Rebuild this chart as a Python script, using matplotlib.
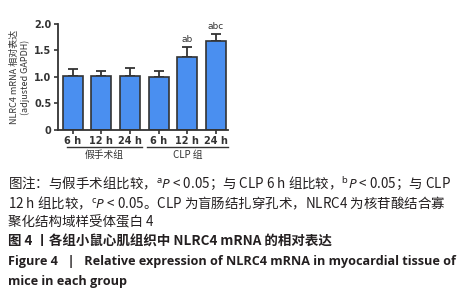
import numpy as np
import matplotlib.pyplot as plt
from matplotlib.transforms import blended_transform_factory

plt.rcParams['font.family'] = ['Noto Sans CJK SC', 'DejaVu Sans']
plt.rcParams['mathtext.fontset'] = 'custom'
plt.rcParams['mathtext.rm'] = 'Noto Sans'
plt.rcParams['mathtext.it'] = 'Noto Sans:italic'

# data
times = ['6 h', '12 h', '24 h', '6 h', '12 h', '24 h']
means = [1.02, 1.02, 1.02, 0.99, 1.38, 1.67]
err_up = [0.13, 0.10, 0.14, 0.13, 0.19, 0.15]
marks = ['', '', '', '', 'ab', 'abc']
groups = ['假手术组', 'CLP 组']

fig = plt.figure(figsize=(4.63, 3.0), dpi=100)
ax = fig.add_axes([0.125, 0.567, 0.367, 0.353])

x = np.arange(len(means))
ax.bar(x, means, width=0.7, color='#4a8ff0', edgecolor='#333333', linewidth=1.2, zorder=2)
ax.errorbar(x, means, yerr=[np.zeros(len(means)), err_up], fmt='none',
            ecolor='#333333', elinewidth=1.3, capsize=3.5, capthick=1.3, zorder=1)
for xi, m, e, t in zip(x, means, err_up, marks):
    if t:
        ax.text(xi, m + e + 0.05, t, ha='center', va='bottom', fontsize=6.5,
                color='#333333', family='DejaVu Sans')

ax.set_xlim(-0.52, 5.42)
ax.set_ylim(0, 2.0)
ax.set_yticks([0, 0.5, 1.0, 1.5, 2.0])
ax.set_yticklabels(['0', '0.5', '1.0', '1.5', '2.0'])
ax.set_xticks(x)
ax.set_xticklabels(times)
ax.tick_params(labelsize=7, width=1.2, length=3, color='#333333', labelcolor='#333333', pad=1.5)
for lab in ax.get_xticklabels() + ax.get_yticklabels():
    lab.set_fontweight('bold')
    lab.set_family('DejaVu Sans')
for s in ['top', 'right']:
    ax.spines[s].set_visible(False)
for s in ['left', 'bottom']:
    ax.spines[s].set_linewidth(1.3)
    ax.spines[s].set_color('#333333')

ax.set_ylabel('NLRC4 mRNA 相对表达\n(adjusted GAPDH)', fontsize=6.5, color='#333333',
              labelpad=3, linespacing=1.2)

# group brackets under the tick labels
tr = blended_transform_factory(ax.transData, ax.transAxes)
for (x0, x1), g in zip([(-0.21, 2.41), (2.59, 5.42)], groups):
    ax.plot([x0, x1], [-0.16, -0.16], color='#333333', lw=1.0, transform=tr, clip_on=False)
    ax.text((x0 + x1) / 2, -0.19, g, ha='center', va='top', fontsize=7,
            color='#333333', transform=tr)

# caption
cap = '#231f20'
fx = 8 / 463
fig.text(fx, 1 - 183 / 300, '图注：与假手术组比较，$^{\\mathrm{a}}$$\\it{P}$ < 0.05；与 CLP 6 h 组比较，$^{\\mathrm{b}}$$\\it{P}$ < 0.05；与 CLP',
         fontsize=9.7, color=cap, va='center')
fig.text(fx, 1 - 203 / 300, '12 h 组比较，$^{\\mathrm{c}}$$\\it{P}$ < 0.05。CLP 为盲肠结扎穿孔术，NLRC4 为核苷酸结合寡',
         fontsize=9.7, color=cap, va='center')
fig.text(fx, 1 - 222 / 300, '聚化结构域样受体蛋白 4', fontsize=9.7, color=cap, va='center')
fig.text(fx, 1 - 242 / 300, '图 4 丨各组小鼠心肌组织中 NLRC4 mRNA 的相对表达', fontsize=9.7,
         color=cap, va='center', fontweight='bold')
fig.text(fx, 1 - 262 / 300, 'Figure 4   |   Relative expression of NLRC4 mRNA in myocardial tissue of',
         fontsize=9.1, color=cap, va='center', fontweight='bold', family='Open Sans')
fig.text(fx, 1 - 281 / 300, 'mice in each group', fontsize=9.1, color=cap, va='center',
         fontweight='bold', family='Open Sans')

fig.savefig('out.png', dpi=100)
